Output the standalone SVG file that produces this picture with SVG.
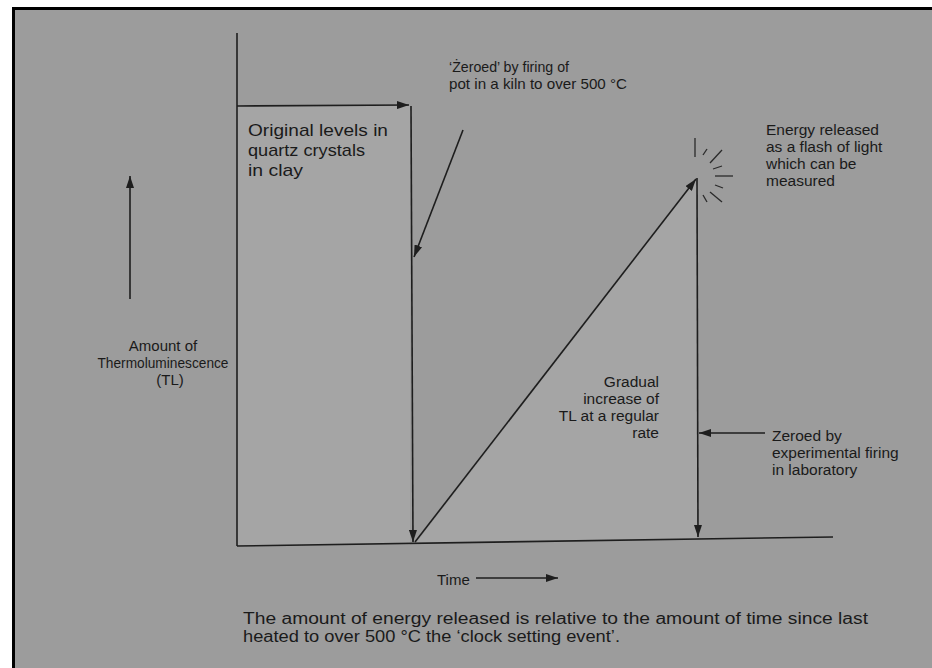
<svg xmlns="http://www.w3.org/2000/svg" width="932" height="668" viewBox="0 0 932 668">
<style>
.t{font-family:"Liberation Sans",Arial,Helvetica,sans-serif;font-size:15px;fill:#1a1a1a}
.big{font-size:17px}
.mid{font-size:15.5px}
.cap{font-size:16px}
.ln{stroke:#1e1e1e;stroke-width:1.6;fill:none}
.ray{stroke:#2a2a2a;stroke-width:1.3;fill:none}
.shade{fill:#a5a5a5}
</style>
<defs>
<marker id="ah" viewBox="0 0 12 8" refX="12" refY="4" markerWidth="12" markerHeight="8" markerUnits="userSpaceOnUse" orient="auto">
<path d="M0,0 L12,4 L0,8 z" fill="#1e1e1e"/>
</marker>
</defs>
<rect x="0" y="0" width="932" height="668" fill="#ffffff"/>
<rect x="12" y="7" width="920" height="661" fill="#9c9c9c"/>
<rect x="12" y="7" width="920" height="3" fill="#000"/>
<rect x="12" y="7" width="3" height="661" fill="#000"/>

<g id="shading">
<rect class="shade" x="237" y="106" width="173" height="439"/>
<polygon class="shade" points="416,543 697,178 697,539"/>
</g>

<g id="axes">
<line class="ln" x1="237" y1="33" x2="237" y2="546"/>
<line class="ln" x1="237" y1="546" x2="833" y2="537"/>
</g>

<g id="connectors">
<line class="ln" x1="237" y1="106" x2="409" y2="105" marker-end="url(#ah)"/>
<line class="ln" x1="411" y1="106" x2="413" y2="542" marker-end="url(#ah)"/>
<line class="ln" x1="463" y1="130" x2="414" y2="257" marker-end="url(#ah)"/>
<line class="ln" x1="415" y1="542" x2="696" y2="179" marker-end="url(#ah)"/>
<line class="ln" x1="697" y1="178" x2="698" y2="537" marker-end="url(#ah)"/>
<line class="ln" x1="765" y1="433" x2="699" y2="433" marker-end="url(#ah)"/>
<line class="ln" x1="130" y1="299" x2="130" y2="176" marker-end="url(#ah)"/>
<line class="ln" x1="476" y1="578" x2="558" y2="578" marker-end="url(#ah)"/>
</g>

<g id="flash">
<line class="ray" x1="695" y1="138" x2="695" y2="157"/>
<line class="ray" x1="703" y1="155" x2="707" y2="149"/>
<line class="ray" x1="710" y1="163" x2="722" y2="150"/>
<line class="ray" x1="713" y1="169" x2="722" y2="166"/>
<line class="ray" x1="715" y1="176" x2="733" y2="176"/>
<line class="ray" x1="715" y1="185" x2="723" y2="188"/>
<line class="ray" x1="703" y1="195" x2="707" y2="202"/>
<line class="ray" x1="710" y1="192" x2="722" y2="202"/>
</g>

<g id="label-zeroed-kiln">
<text class="t" x="449" y="72" textLength="120" lengthAdjust="spacingAndGlyphs">‘Żeroed’ by firing of</text>
<text class="t" x="449" y="89" textLength="178" lengthAdjust="spacingAndGlyphs">pot in a kiln to over 500 °C</text>
</g>

<g id="label-original">
<text class="t big" x="248" y="136" textLength="140" lengthAdjust="spacingAndGlyphs">Original levels in</text>
<text class="t big" x="248" y="156" textLength="117" lengthAdjust="spacingAndGlyphs">quartz crystals</text>
<text class="t big" x="248" y="176" textLength="55" lengthAdjust="spacingAndGlyphs">in clay</text>
</g>

<g id="label-energy">
<text class="t mid" x="766" y="135">Energy released</text>
<text class="t mid" x="766" y="152">as a flash of light</text>
<text class="t mid" x="766" y="169">which can be</text>
<text class="t mid" x="766" y="186">measured</text>
</g>

<g id="label-amount">
<text class="t" x="163" y="351" text-anchor="middle">Amount of</text>
<text class="t" x="163" y="368" text-anchor="middle" textLength="131" lengthAdjust="spacingAndGlyphs">Thermoluminescence</text>
<text class="t" x="170" y="385" text-anchor="middle">(TL)</text>
</g>

<g id="label-gradual">
<text class="t mid" x="659" y="387" text-anchor="end">Gradual</text>
<text class="t mid" x="659" y="404" text-anchor="end">increase of</text>
<text class="t mid" x="659" y="421" text-anchor="end">TL at a regular</text>
<text class="t mid" x="659" y="438" text-anchor="end">rate</text>
</g>

<g id="label-lab">
<text class="t mid" x="772" y="441">Zeroed by</text>
<text class="t mid" x="772" y="458">experimental firing</text>
<text class="t mid" x="772" y="475">in laboratory</text>
</g>

<g id="label-time">
<text class="t" x="437" y="585">Time</text>
</g>

<g id="caption">
<text class="t cap" x="243" y="624" textLength="625" lengthAdjust="spacingAndGlyphs">The amount of energy released is relative to the amount of time since last</text>
<text class="t cap" x="243" y="642" textLength="377" lengthAdjust="spacingAndGlyphs">heated to over 500 °C the ‘clock setting event’.</text>
</g>
</svg>
